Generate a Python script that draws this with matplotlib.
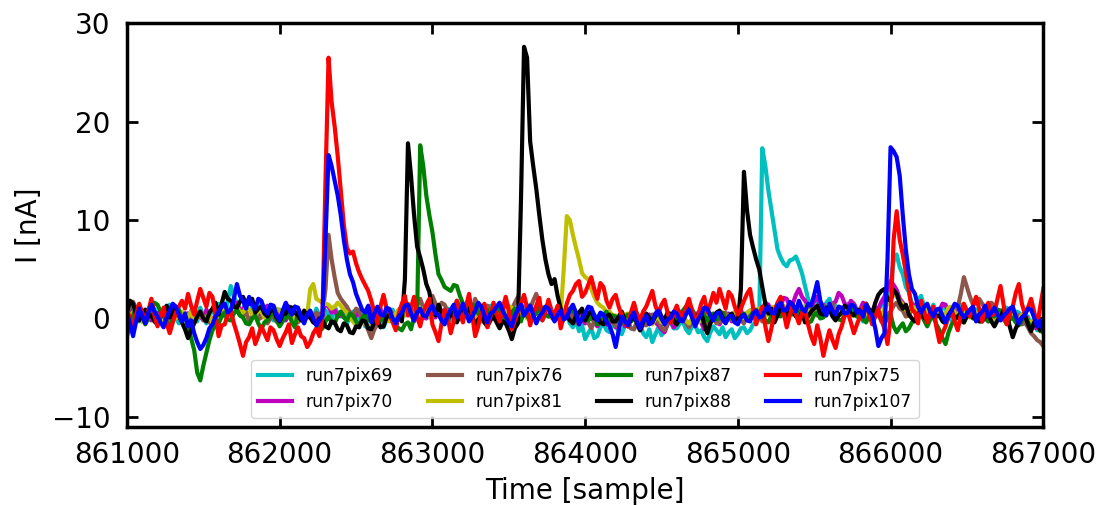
import numpy as np
import matplotlib
matplotlib.use('Agg')
import matplotlib.pyplot as plt

# sample index, one point every 20 samples
time = np.arange(861000, 867001, 20)

run7pix69 = [
    0.5, -0.4, 1.2, 0.3, -0.3, 0.6, 0.8, -0.2, 0.2, 1.0, -0.6, 0.1, 0.9, 0.4, 1.4, 0.7, 0.1, -0.5, 0.6, 0.2,
    -0.2, 0.8, 0.4, -0.3, 1.1, 0.2, -0.5, 0.3, 0.7, 1.2, 1.5, 0.6, 0.2, 1.8, 3.3, 2.2, 1.6, 0.9, 1.0, 1.7,
    2.0, 1.1, 0.6, 1.6, 1.3, 0.2, 0.4, 0.9, -0.2, 0.5, 0.9, 0.1, 1.5, 0.8, 0.3, 1.2, 0.8, 0.0, -0.4, 0.5,
    0.6, -0.1, 1.0, 0.3, -0.3, 0.8, 0.4, -0.2, 1.2, 0.5, 0.2, 0.9, -0.5, 0.1, 0.7, -0.3, 0.1, 0.6, -0.8, -0.2,
    -0.3, 0.4, 0.5, -0.4, -0.9, -0.1, 0.3, 0.9, -0.6, 0.2, 0.8, 0.3, 1.1, 0.5, 0.2, 0.9, -0.4, 0.3, 0.9, 0.1,
    0.3, 0.8, 1.2, 0.2, 0.5, 1.0, -0.2, 0.4, 0.8, -0.1, 0.1, 0.6, 1.0, 0.3, 0.4, 1.1, -0.3, 0.2, 0.7, 1.3,
    0.2, 0.7, 1.1, 0.1, 0.6, 1.3, -0.4, 0.5, 0.9, 0.0, 0.3, 0.8, 1.4, 0.6, 0.5, 1.0, -0.2, 0.4, 0.8, 0.2,
    0.1, 0.6, -0.6, -0.1, 0.4, -0.5, -0.9, -0.2, -1.3, -0.7, -2.1, -1.5, -1.0, -2.0, -1.8, -0.9, -0.5, -1.2, -1.4, -0.6,
    -0.8, -1.3, -1.6, -0.7, -0.3, -1.0, -1.1, -0.4, -0.6, -1.5, -1.9, -1.1, -2.4, -1.6, -0.9, -1.7, -1.3, -0.5, -0.4, -1.0,
    -1.0, -0.5, -0.3, -1.1, -1.5, -0.8, -0.7, -1.4, -1.2, -1.9, -2.3, -1.4, -0.8, -1.2, -1.6, -0.9, -1.9, -1.4, -1.1, -2.0,
    -1.6, -1.0, -0.9, -1.5, -1.2, -0.6, -0.4, 0.0, 17.3, 15.5, 13.0, 11.0, 9.0, 7.0, 6.2, 5.6, 5.3, 5.9, 6.0, 6.3,
    5.5, 4.6, 3.3, 2.0, 1.2, 2.3, 1.8, 0.7, 0.9, 1.6, 2.0, 1.0, 1.3, 0.4, 0.6, 1.2, 1.5, 0.6, 0.8, 0.2,
    0.4, -0.3, 1.1, 0.5, 0.2, 0.8, 0.9, 1.3, 1.5, 2.6, 3.5, 5.8, 6.5, 5.2, 4.5, 3.2, 2.7, 1.5, 1.2, 1.9,
    2.3, 1.2, 0.8, 0.3, 1.4, 0.6, 0.3, 1.1, 1.0, 0.2, -0.2, 0.5, 0.7, 1.4, 1.3, 0.6, 0.4, 1.0, 0.9, 0.3,
    0.2, 0.9, 0.8, 0.1, -0.3, 0.4, 0.5, 1.0, 1.1, 0.3, 0.0, 0.7, 0.6, -0.1, -0.5, 0.2, -0.8, -0.3, -1.2, -0.7,
    -1.5]

run7pix70 = [
    0.3, 0.9, -0.5, 0.2, 0.8, -0.3, 0.1, 0.7, -0.2, 0.4, 0.6, -0.4, -0.7, 0.1, 0.4, 1.1, 1.0, 0.3, -0.1, 0.5,
    0.5, -0.1, -0.4, 0.6, 0.2, -0.2, 0.9, 0.4, -0.3, 0.3, 0.7, 1.4, 1.2, 0.6, 0.5, 1.3, 1.6, 0.8, 0.9, 1.5,
    2.0, 1.4, 1.1, 0.5, 0.4, 1.0, 1.3, 0.6, 0.2, -0.3, 0.8, 0.3, -0.2, 0.5, 0.6, 1.2, 1.0, 0.4, 0.1, 0.7,
    0.7, 0.1, -0.3, 0.4, 0.5, 1.5, 1.2, 0.6, 0.9, 0.2, 0.3, 0.8, 1.0, 0.4, -0.2, 0.3, 0.6, -0.1, 0.2, 0.9,
    1.0, 0.3, 0.4, 1.0, -0.1, 0.5, 0.8, 0.2, 0.2, 0.9, 1.1, 0.4, 0.5, 1.2, -0.3, 0.3, 0.7, 0.1, 0.0, 0.6,
    0.6, 0.1, 1.3, 0.7, 0.2, 0.8, 0.9, 0.3, -0.2, 0.5, 1.0, 0.2, 0.4, 1.1, 1.5, 0.7, 0.3, 1.0, 0.8, 0.2,
    1.2, 0.6, 0.5, 1.3, 0.9, 0.3, -0.1, 0.5, 0.6, 1.4, 1.1, 0.4, 0.3, 0.9, 0.8, 0.2, 0.1, 0.8, 0.7, 0.1,
    0.2, 0.7, 0.9, 0.1, 0.4, 0.8, -0.3, 0.2, 0.6, -0.1, -0.5, 0.3, 0.2, -0.4, -0.8, -0.2, 0.1, -0.6, -0.4, 0.3,
    -0.9, -0.3, 0.0, -0.8, -0.6, 0.1, 0.3, -0.5, -1.2, -0.6, -0.3, 0.4, 0.2, -0.4, -0.7, -1.1, -1.4, -0.6, -0.2, -0.9,
    -0.5, 0.1, 0.4, -0.3, -0.8, -0.2, 0.1, 0.6, -0.4, -1.1, -1.0, -0.3, 0.3, -0.2, -0.6, 0.0, 0.2, 0.5, -0.3, 0.2,
    0.4, 0.9, -0.2, 0.3, 0.6, 1.0, 0.1, 0.7, 0.9, 1.6, 1.4, 0.8, 0.7, 1.5, 1.2, 2.1, 2.0, 1.2, 1.5, 2.4,
    3.0, 2.2, 1.8, 1.2, 1.1, 1.7, 2.2, 1.3, 1.4, 0.7, 0.8, 1.5, 1.7, 2.6, 2.3, 1.5, 1.0, 1.8, 1.5, 0.9,
    0.9, 1.6, 1.3, 0.6, 0.5, 1.1, 1.0, 1.7, 2.2, 3.0, 3.8, 3.4, 2.9, 2.0, 1.6, 1.0, 0.8, 1.5, 1.2, 0.5,
    0.6, 1.2, 1.0, 0.4, 0.3, 0.9, 0.8, 1.5, 1.4, 0.7, 0.5, 1.1, 0.9, 0.3, 0.2, 0.8, 0.7, 0.1, -0.1, 0.5,
    0.4, 0.9, -0.3, 0.2, 0.6, -0.1, 0.1, 0.5, -0.5, 0.0, 0.3, -0.4, -0.2, 0.4, 0.5, -0.2, -0.6, -0.9, -1.0, -0.5,
    -1.3]

run7pix76 = [
    0.4, 1.2, 1.7, 1.0, 0.9, 0.3, 0.2, 0.8, 1.1, 0.4, -0.4, 0.2, 0.6, -0.3, 0.0, 0.5, 0.8, 0.2, -0.3, 0.4,
    0.5, 0.0, -0.2, 0.5, 0.7, 0.2, 0.1, -0.4, -0.6, 0.1, 0.3, 0.8, 1.0, 0.5, 0.4, 1.1, 0.9, 0.3, 0.2, 0.7,
    -0.3, 0.2, 0.6, -0.1, 0.1, 0.6, -0.5, 0.0, 0.4, -0.3, -0.2, 0.4, 0.8, 0.1, 0.3, -0.2, -0.4, 0.2, 0.5, 0.1,
    0.2, -0.2, 0.6, 0.3, 0.4, 3.0, 8.5, 6.0, 4.2, 2.6, 2.0, 1.6, 1.2, 0.6, 0.3, 1.0, 0.8, -0.1, -0.5, -1.2,
    -2.0, -1.1, -0.6, 0.2, 0.4, -0.2, 1.0, 0.3, -0.3, 0.5, 0.7, 1.2, 1.5, 0.8, 0.6, 1.3, 2.0, 1.1, 1.2, 1.8,
    2.3, 1.5, 0.9, 1.6, 1.4, 0.7, 0.3, 1.0, 1.8, 1.2, 0.6, 1.4, 1.1, 0.5, 2.0, 1.2, 0.4, 0.9, 1.3, 0.6,
    0.7, 0.1, 1.2, 0.6, 0.3, 1.0, 0.9, 1.6, 2.2, 1.1, 0.5, 1.3, 1.0, 1.8, 2.5, 1.4, 0.8, 1.2, 0.2, 0.7,
    0.6, 0.1, -0.3, 0.4, 0.9, 0.3, 0.2, -0.4, -0.6, 0.2, 0.4, -0.4, -1.0, -0.3, 0.1, 0.5, -0.5, -0.1, 0.3, -0.4,
    -0.8, -0.2, 0.2, -0.5, -0.4, -1.0, -1.1, -0.3, 0.0, -0.6, -0.7, 0.1, 0.4, -0.2, -0.3, -0.9, -1.2, -0.5, 0.1, -0.4,
    -0.5, 0.2, 0.3, -0.4, -0.9, -0.3, -0.2, 0.4, 0.5, -0.1, -0.6, 0.0, 0.1, -0.5, -0.4, 0.3, 0.6, 0.0, -0.1, 0.5,
    0.3, -0.2, -0.5, 0.4, 0.8, 0.1, 0.2, 0.7, -0.3, 0.3, 0.9, 0.2, 0.4, 1.0, 1.2, 0.5, 0.6, 1.3, 1.0, 0.4,
    1.5, 0.9, 0.7, 1.4, 1.1, 0.5, 0.3, 0.9, 1.3, 0.6, 0.8, 1.5, 0.2, 0.7, 1.0, 0.3, 0.5, 1.1, 1.4, 0.8,
    0.6, 1.1, 0.1, 0.5, 0.9, 0.2, 0.4, -0.3, -0.2, 0.4, 0.7, 1.3, 1.6, 1.0, 0.8, 0.2, 0.3, 0.9, 1.0, 0.4,
    0.5, 0.9, 1.2, 0.4, 0.2, 0.7, 0.8, 0.1, -0.3, 0.3, 0.6, 1.0, 1.1, 2.5, 4.2, 3.2, 2.2, 1.4, 1.6, 2.0,
    1.5, 1.0, 0.7, 1.6, 1.3, 0.6, 0.2, -0.1, -0.5, 0.4, 0.9, 0.2, 0.3, -0.6, -0.4, -0.9, -1.5, -1.8, -2.2, -2.4,
    -2.8]

run7pix81 = [
    -0.2, 0.3, 0.6, 0.0, 0.1, -0.3, -0.5, 0.2, 0.8, 0.4, 0.3, -0.2, -0.4, 0.1, 0.5, 0.9, 0.0, 0.3, 0.7, 0.1,
    0.2, 0.7, -0.3, 0.1, 0.6, -0.1, 0.1, 0.5, -0.6, 0.0, 0.4, 1.0, 0.9, 0.4, 0.3, 0.8, 1.2, 0.7, 0.6, 1.1,
    0.9, 0.4, 0.2, 0.8, 0.7, 0.1, -0.1, 0.5, 0.4, 1.0, 0.8, 0.3, 0.1, 0.7, 0.5, -0.1, -0.2, 0.4, 0.6, 0.3,
    3.0, 3.5, 2.0, 1.8, 1.6, 1.5, 1.4, 1.0, 1.2, 1.6, 1.3, 0.9, 0.6, 0.1, -0.3, -0.7, -0.6, -0.4, -0.5, -0.8,
    -0.7, -0.3, -0.2, 0.3, 0.4, -0.1, -0.3, 0.2, 0.5, 0.9, 0.1, 0.4, 0.8, 0.2, -0.2, 0.4, 0.3, 1.0, 0.6, 0.2,
    0.2, 0.5, 0.7, 0.1, -0.1, 0.4, 0.5, 1.1, 1.0, 0.4, 0.3, 0.9, 0.8, 0.2, -0.2, 0.3, 0.4, 1.0, 0.9, 0.3,
    0.5, 0.9, -0.1, 0.3, 0.6, 1.2, 1.1, 0.5, 0.2, 0.8, 0.7, 0.0, 0.1, 0.6, 0.8, 0.2, 0.3, 0.9, 0.6, 0.1,
    -0.2, 0.3, 0.4, 5.0, 10.4, 10.0, 8.5, 7.2, 6.0, 4.6, 4.2, 4.0, 3.0, 2.2, 1.6, 1.3, 1.1, 0.6, 0.7, 0.3,
    0.3, -0.1, -0.2, 0.4, 0.5, -0.3, 0.0, -0.5, -0.4, 0.3, 0.2, -0.2, -0.6, 0.0, 0.1, -0.4, -0.3, 0.2, 0.4, -0.1,
    -0.1, 0.4, 0.3, -0.2, -0.5, 0.0, 0.2, -0.4, -0.2, 0.3, 0.6, 0.1, 0.0, 0.5, 0.4, -0.1, -0.3, 0.3, 0.2, 0.7,
    0.5, 0.0, 0.1, 0.6, 0.8, 0.2, 0.3, 1.0, 0.9, 0.3, 0.4, 1.1, 1.2, 0.6, 0.7, 1.3, 1.0, 0.4, 0.5, 1.1,
    0.9, 0.4, 1.3, 0.8, 0.4, 1.1, 0.8, 0.2, 0.2, 0.7, 1.0, 0.5, 0.6, 1.2, 0.3, 0.8, 0.9, 0.2, 0.5, 1.0,
    0.2, 0.8, 0.7, 0.1, 0.1, 0.6, 0.6, 0.2, 1.0, 1.5, 1.8, 2.6, 2.2, 1.8, 1.4, 0.9, 0.6, 1.2, 1.1, 0.5,
    0.4, 1.0, 0.8, 0.3, 0.2, 0.7, 0.9, 0.4, 0.5, 1.1, 1.2, 0.6, 0.3, 0.9, 0.8, 0.2, 0.1, 0.7, 0.6, 0.0,
    0.3, 0.8, 0.7, 0.1, -0.1, 0.4, 0.5, -0.1, 0.2, 0.7, 0.6, 0.0, -0.2, 0.4, 0.3, -0.3, -0.4, 0.0, -0.6, -0.3,
    -0.9]

run7pix87 = [
    -1.8, -0.6, 0.3, 1.1, 1.0, 0.2, -0.6, 0.1, 0.8, 1.6, 1.4, 0.7, 0.2, -0.3, -0.8, -0.1, 0.5, 0.9, -0.3, 0.2,
    -0.9, -2.0, -3.2, -5.5, -6.3, -4.8, -3.5, -2.2, -1.2, -0.6, -0.5, 0.2, 0.6, -0.1, -0.2, 0.5, 0.9, 0.3, 0.1, -0.5,
    -0.6, 0.0, 0.3, -0.5, -1.1, -0.4, -0.2, 0.4, 0.5, -0.2, -0.8, -0.3, 0.1, 0.6, -0.4, -0.9, 0.6, 0.1, -0.3, 0.3,
    0.4, -0.2, -0.6, -1.3, -1.0, -0.3, 0.2, -0.4, -0.5, 0.3, 0.7, 0.1, -0.2, 0.5, 0.3, -0.3, -0.7, 0.0, 0.5, -0.1,
    -0.3, 0.3, 0.6, -0.1, -0.2, 0.5, 0.4, -0.3, -0.8, -1.0, -1.2, -0.6, -0.4, -1.1, 0.2, 0.5, 17.6, 15.5, 12.5, 10.5,
    8.8, 6.5, 4.5, 3.9, 3.2, 3.0, 2.8, 3.4, 3.3, 2.3, 1.5, 1.0, 0.8, 1.4, 1.3, 0.5, 0.2, 0.8, 0.9, 0.2,
    0.3, 0.7, 1.0, 0.2, -0.4, 0.1, 0.6, 1.0, 0.1, -0.3, 0.8, 0.3, -0.2, 0.4, 0.5, 1.2, 1.1, 0.4, 0.2, 0.7,
    0.6, 0.0, -0.1, 0.5, 0.4, 1.0, 0.9, 0.2, -0.3, 0.1, 0.5, -0.2, 0.1, 0.4, -0.6, -0.1, 0.3, 0.7, -0.2, 0.3,
    0.2, -0.2, -0.5, 0.1, 0.4, -0.3, 0.0, 0.5, -0.8, -0.2, 0.3, -0.4, -0.3, 0.2, 0.6, 0.0, -0.1, 0.4, 0.5, -0.2,
    0.1, 0.5, 0.8, 1.2, 1.6, 0.9, 0.4, 0.0, 0.9, 0.3, -0.2, 0.4, 0.5, -0.1, 0.1, 0.6, -0.4, 0.0, 0.3, -0.3,
    -0.2, 0.3, 0.5, -0.1, 0.1, 0.7, 0.9, 0.2, 0.3, -0.2, -0.4, 0.3, 0.6, 1.1, 0.2, 0.6, 1.0, 0.5, 0.4, 0.9,
    0.8, 0.3, 0.2, -0.4, -0.3, 0.4, 0.6, 0.0, 0.1, 0.8, 1.2, 0.6, 0.4, -0.1, -0.2, 0.3, 0.5, 1.0, 0.9, 0.2,
    0.3, -0.1, -0.4, 0.3, 0.2, 0.8, 0.7, 0.0, -0.6, 0.1, 0.4, -0.8, -1.4, -0.9, -0.5, -1.3, -1.0, -0.4, -0.2, 0.3,
    0.4, -0.2, -0.8, -0.1, 0.2, -0.6, -1.2, -2.0, -2.6, -1.4, -0.6, -0.1, 0.3, -0.3, -0.4, 0.2, 0.5, 0.0, -0.1, 0.4,
    0.6, 0.0, -0.3, 0.4, 0.2, 0.9, 0.8, 0.1, -0.5, -0.1, 0.1, -0.4, -0.7, -0.2, 0.3, -0.4, -1.0, -0.5, -0.6, -1.3,
    -1.1]

run7pix88 = [
    0.6, 1.8, 1.5, 0.4, -0.2, 0.5, 0.9, 0.2, 0.3, -0.3, -0.6, 0.2, 0.8, 1.3, 0.1, 0.6, 1.2, 0.3, -0.4, -1.1,
    -2.0, -1.2, -0.5, 0.2, 0.7, 0.0, -0.3, 0.6, 1.0, 1.6, 0.4, 1.5, 2.7, 2.0, 1.8, 1.2, 1.1, 1.7, 2.2, 1.4,
    1.5, 2.0, 0.6, 1.0, 1.2, 0.5, 0.2, 0.8, 0.9, 0.1, -0.3, 0.4, 0.5, 1.2, 1.1, 0.6, 0.3, -0.2, 0.8, 0.2,
    0.1, -0.4, -0.6, 0.0, -0.2, -0.8, -1.0, -0.3, -0.4, -1.1, -1.3, -0.5, -0.7, -1.4, -1.5, -0.8, -0.9, -0.2, -0.3, -1.0,
    -1.1, -0.4, -0.2, -0.9, -0.8, 0.1, 0.4, -0.2, -0.5, 0.2, -0.3, 4.0, 17.8, 14.5, 10.5, 7.3, 6.2, 5.0, 3.5, 2.7,
    0.9, 0.3, 1.4, 0.6, 0.2, -0.3, 0.7, 0.1, -0.4, 0.4, 0.5, 1.1, 1.0, 0.2, -0.6, -0.1, 0.3, -0.4, -0.8, -0.2,
    0.2, -0.4, -1.0, -0.3, -0.5, -1.2, -2.1, -1.0, -0.5, 12.0, 27.6, 26.5, 18.0, 15.5, 13.2, 10.5, 8.0, 6.0, 4.5, 3.5,
    4.0, 2.3, 1.0, 0.4, 0.3, -0.2, -0.5, 0.2, 0.6, 1.0, -0.2, 0.4, 0.8, 0.0, 0.1, -0.4, -0.6, 0.2, 0.4, -0.3,
    -0.3, 0.2, 0.7, -0.2, -0.8, -0.1, 0.2, -0.5, -1.2, -0.4, 0.5, 0.1, -0.4, 0.3, 0.9, 0.2, -0.1, 0.6, 0.4, -0.2,
    -0.6, 0.0, 0.3, 0.8, 1.0, 0.3, -0.2, 0.4, 0.6, -0.6, -1.5, -0.5, 0.1, 0.6, 0.8, 0.1, -0.3, 0.2, 0.5, -0.2,
    -0.4, 3.0, 14.9, 11.0, 8.5, 7.2, 6.0, 5.0, 3.2, 1.5, 0.5, 1.0, -0.4, 0.3, 1.2, 0.6, 0.2, 0.9, 0.8, 0.2,
    0.1, 0.6, -0.4, 0.2, 0.7, 1.0, 1.3, 0.5, 0.4, 1.1, 0.9, 0.2, -0.2, 0.3, 0.6, 1.3, 1.1, 0.5, 0.3, 0.9,
    0.8, 0.3, 1.5, 0.9, 0.5, 1.6, 2.4, 2.8, 3.0, 2.0, 1.8, 2.9, 2.5, 1.6, 1.0, 1.4, 0.4, 0.0, -0.3, 0.5,
    0.6, 0.1, -0.2, 0.5, 0.9, 0.2, 0.3, -0.3, -0.5, 0.2, 0.7, 0.0, 0.1, 0.6, -0.4, 0.3, 0.8, 0.1, 0.2, -0.3,
    -0.3, 0.2, 0.5, -0.3, -0.8, -0.2, 0.2, 0.8, 0.6, -0.8, -1.9, -1.0, -0.4, 0.1, 0.3, -0.6, -1.3, -0.4, -0.5, -1.2,
    -1.0]

run7pix75 = [
    0.8, 0.1, -1.2, 0.4, 1.5, 0.6, -0.4, 0.8, 2.0, 0.3, -0.8, 0.2, 1.1, -0.5, -1.5, -0.4, 0.6, 1.2, 1.8, 1.0,
    2.5, 1.3, 0.4, 1.8, 3.0, 2.1, 1.2, 2.6, 2.2, 0.3, -1.8, -0.7, -0.6, 0.4, 0.8, -0.5, -1.5, -2.6, -3.8, -2.4,
    -1.9, -1.0, -2.6, -1.8, -0.8, -1.5, -2.2, -0.9, -1.2, -2.1, -2.8, -2.0, -1.4, -0.6, -2.5, -1.6, -0.9, -1.8, -2.0, -2.9,
    -2.4, -1.5, -1.0, -1.8, 0.2, 14.0, 26.5, 22.0, 19.5, 16.5, 13.0, 9.5, 7.2, 6.6, 6.8, 5.6, 4.7, 4.0, 3.4, 2.8,
    1.8, 0.6, -0.5, 1.2, 2.4, 1.0, 0.8, -0.4, -1.2, 0.5, 1.5, 2.3, 0.3, 1.1, 2.2, 0.2, -0.8, 0.6, 1.4, 2.0,
    -0.6, -1.4, -2.3, -0.5, 0.9, 0.1, -1.5, -0.3, 1.8, 0.7, -0.4, 1.2, 2.5, 0.4, -1.8, -0.8, 0.7, 1.5, -0.9, 0.2,
    1.6, 0.5, -0.3, 1.0, 2.2, 0.8, -1.1, -0.2, 0.6, 1.5, 2.4, 1.1, -0.7, 0.4, 1.3, 2.1, -0.2, 0.7, 1.9, 0.8,
    0.4, 1.3, -1.0, 0.2, 1.5, 2.4, 2.8, 3.5, 3.8, 2.2, 2.6, 3.4, 4.2, 3.0, 2.0, 3.6, 3.2, 1.8, 1.1, 2.0,
    2.4, 1.2, 0.3, -0.5, -0.8, 0.6, 1.6, 0.4, -0.2, 0.7, 1.2, 2.0, 2.8, 1.3, 0.5, 1.4, 1.9, 0.6, -0.4, 0.5,
    1.3, 0.4, 0.2, 1.1, 2.0, 0.8, -0.5, 0.3, 1.5, 2.2, 0.6, 1.5, 2.6, 1.6, 3.0, 2.0, 1.0, 2.7, 2.3, 1.2,
    0.4, 1.0, 1.8, 2.5, 3.0, 1.1, -0.6, 0.5, 1.2, -0.8, -2.3, -1.0, 0.8, 1.6, 2.2, 0.6, -0.9, 0.3, 1.4, 0.4,
    -0.5, 0.6, 0.9, -0.6, -1.8, -2.6, -0.7, -2.0, -3.8, -2.4, -1.2, -2.2, -3.0, -1.6, -0.8, 0.3, 0.6, -0.4, -1.5, -0.6,
    0.2, 0.9, 1.5, 0.4, -0.6, 0.2, 0.9, -0.2, -1.0, -2.6, 0.0, 8.0, 10.9, 8.0, 6.5, 4.7, 2.8, 0.9, 0.6, -0.5,
    1.8, 0.7, -0.4, 0.5, 1.2, -0.9, -2.4, -1.5, -0.8, 0.3, 0.9, -0.3, -1.2, 0.4, 1.5, 0.8, 0.2, 1.3, 2.2, 1.0,
    -0.3, 0.8, 1.6, 0.3, 0.5, 2.0, 3.3, 1.4, -0.6, 0.4, 1.2, 2.6, 3.5, 1.5, 0.4, 1.1, 2.0, 0.7, -0.8, 1.2,
    3.0]

run7pix107 = [
    0.6, -0.5, -1.8, -0.3, 1.0, 0.3, -0.5, 0.6, 1.4, 0.7, 0.2, -0.4, -0.9, 0.1, 0.8, 1.5, 1.2, 0.4, -0.3, 0.5,
    -0.8, -0.2, -1.5, -2.4, -3.1, -2.7, -2.0, -1.0, -0.6, 0.2, 0.7, 1.2, 1.5, 0.6, 0.9, 2.0, 3.5, 2.3, 1.8, 1.0,
    2.2, 1.4, 1.0, 2.0, 1.8, 0.9, 0.5, 1.4, 1.3, 0.3, -0.2, 0.8, 1.6, 0.9, 0.4, 1.2, 1.1, 0.2, -0.5, 0.4,
    0.8, 0.0, -0.7, -0.2, 0.3, 8.0, 16.6, 15.5, 14.0, 12.5, 10.5, 8.0, 6.0, 4.5, 3.7, 2.5, 1.7, 0.9, 0.6, 1.3,
    -0.4, 0.5, 1.2, 0.4, 0.3, 1.1, 0.9, 0.0, -0.5, 0.2, 0.6, 1.3, 1.4, 0.5, -0.2, 0.6, 1.0, 0.3, 0.2, 0.9,
    1.3, 0.5, 0.4, -0.2, -0.6, 0.3, 0.9, 1.4, 0.1, 0.7, 1.5, 0.6, -0.3, 0.2, 0.8, 1.6, 1.2, 0.3, -0.4, 0.5,
    0.7, 1.2, 1.6, 0.8, 0.2, -0.4, -0.8, 0.3, 0.9, 1.4, 0.3, 0.8, 1.3, 0.4, -0.5, 0.2, 0.6, 1.2, 1.0, 0.3,
    -0.3, 0.4, 0.8, -0.1, 0.1, 0.9, 1.4, 0.6, -0.6, 0.0, 0.5, 1.2, 1.1, 0.3, -0.2, 0.6, 0.4, -0.3, -0.8, -1.6,
    -2.9, -1.2, 0.2, -0.3, -0.7, 0.1, 0.6, -0.4, -1.0, -0.2, 0.3, -0.6, -0.4, 0.5, 0.8, 0.0, -0.6, -0.1, 0.1, 0.7,
    0.5, -0.2, -0.3, 0.4, 0.9, 0.1, -0.8, -0.1, 0.4, 1.1, 1.0, 0.3, -0.2, 0.5, 0.6, -0.1, -0.5, 0.2, 0.3, -0.4,
    -0.6, 0.1, 0.4, -0.2, -0.3, 0.5, 0.8, 0.1, 0.2, 0.9, 1.2, 0.6, 0.5, 1.3, 1.6, 0.8, 0.9, 1.7, 1.4, 0.7,
    1.8, 1.0, 0.7, 1.5, 1.3, 2.4, 3.7, 1.8, 0.9, 0.3, 1.5, 0.8, 0.4, 1.2, 1.1, 0.5, 0.6, 1.4, 1.3, 0.6,
    0.8, 0.2, 1.4, 0.7, 0.3, -1.0, -2.8, -2.0, -1.5, 6.0, 17.4, 17.0, 16.4, 14.5, 10.5, 7.0, 4.5, 3.0, 2.5, 1.2,
    0.6, 1.2, 1.5, 0.7, 0.2, 0.9, 1.0, 0.3, -0.4, 0.4, 0.8, 1.5, 1.3, 0.6, 0.1, 0.5, 0.9, 1.2, -0.3, 0.4,
    0.7, 1.3, 0.2, 0.6, 1.1, 0.4, -0.2, 0.3, 0.6, 1.0, 1.2, 0.2, -0.5, 0.1, 0.4, 1.0, 0.9, 0.1, -0.8, -0.2,
    -1.3]

labels = ['run7pix69', 'run7pix70', 'run7pix76', 'run7pix81',
          'run7pix87', 'run7pix88', 'run7pix75', 'run7pix107']
colors = ['c', 'm', '#8c564b', 'y', 'g', 'k', 'r', 'b']
series = [run7pix69, run7pix70, run7pix76, run7pix81,
          run7pix87, run7pix88, run7pix75, run7pix107]

fig, ax = plt.subplots(figsize=(11.04, 5.05), dpi=100)
fig.subplots_adjust(left=0.115, right=0.945, top=0.954, bottom=0.155)

for values, label, color in zip(series, labels, colors):
    ax.plot(time, values, color=color, lw=3, label=label)

ax.set_xlim(861000, 867000)
ax.set_ylim(-11, 30)
ax.set_xticks(range(861000, 867001, 1000))
ax.set_yticks([-10, 0, 10, 20, 30])
ax.tick_params(direction='in', top=True, right=True, length=8, width=2,
               labelsize=20)
ax.tick_params(axis='x', pad=10)
ax.tick_params(axis='y', pad=12)
for spine in ax.spines.values():
    spine.set_linewidth(2.5)

ax.set_xlabel('Time [sample]', fontsize=20, labelpad=6)
ax.set_ylabel('I [nA]', fontsize=20, labelpad=6)
ax.legend(ncol=4, fontsize=12.3, loc='lower center')

plt.savefig('out.png')
